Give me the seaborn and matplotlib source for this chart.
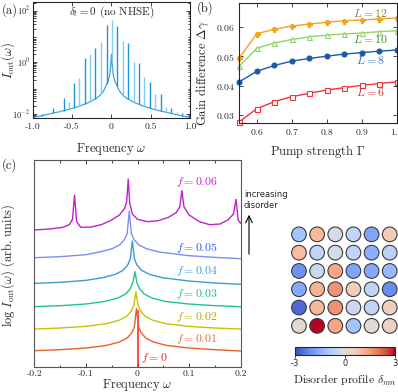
import numpy as np
import matplotlib
matplotlib.use('Agg')
import matplotlib.pyplot as plt
import seaborn as sns
from matplotlib.ticker import LogLocator, NullFormatter, FixedLocator
from matplotlib.colors import Normalize
from matplotlib.cm import ScalarMappable

# %% data -- (a) output spectrum without NHSE (log10 of I_out)
bg_w = [-1.0, -0.9, -0.8, -0.7, -0.6, -0.5, -0.4, -0.3, -0.2, -0.15, -0.1, -0.07, -0.045,
        -0.025, -0.012, 0.0, 0.012, 0.025, 0.045, 0.07, 0.1, 0.15, 0.2, 0.3, 0.4, 0.5,
        0.6, 0.7, 0.8, 0.9, 1.0]
bg_logI = [-2.15, -2.09, -2.02, -1.95, -1.88, -1.8, -1.7, -1.58, -1.42, -1.3, -1.12, -0.92, -0.75,
           -0.55, -0.2, 0.3, -0.2, -0.55, -0.75, -0.92, -1.12, -1.3, -1.42, -1.58, -1.7, -1.8,
           -1.88, -1.95, -2.02, -2.09, -2.15]
peak_w = [-0.88, -0.81, -0.745, -0.675, -0.608, -0.542, -0.475, -0.408, -0.342, -0.272,
          -0.204, -0.136, -0.062, 0.004, 0.072, 0.144, 0.216, 0.284, 0.353, 0.42, 0.488,
          0.557, 0.625, 0.697, 0.764, 0.837, 0.904]
peak_logI = [-2.0, -1.97, -1.8, -1.86, -1.41, -1.55, -0.83, -0.63, 0.14, 0.31,
             0.53, 0.79, 1.44, 1.63, 1.4, 0.83, 0.74, 0.01, -0.05, -0.59, -0.77,
             -1.22, -1.22, -1.76, -1.8, -1.95, -1.99]
a_xticks = [-1.0, -0.5, 0.0, 0.5, 1.0]
a_xticklabels = ['-1.0', '-0.5', '0', '0.5', '1.0']

# %% data -- (b) gain difference vs pump strength
pump = [0.55, 0.6, 0.65, 0.7, 0.75, 0.8, 0.85, 0.9, 0.95, 1.0]
gain_L12 = [0.0495, 0.0578, 0.0593, 0.0604, 0.0611, 0.0617, 0.0622, 0.0625, 0.0628, 0.0632]
gain_L10 = [0.0467, 0.0528, 0.0546, 0.0558, 0.0567, 0.0573, 0.0577, 0.0580, 0.0585, 0.0588]
gain_L8 = [0.0413, 0.0449, 0.0469, 0.0484, 0.0493, 0.0501, 0.0508, 0.0513, 0.0518, 0.0522]
gain_L6 = [0.0276, 0.0321, 0.0345, 0.0362, 0.0374, 0.0385, 0.0393, 0.0401, 0.0407, 0.0413]

# %% data -- (c) offset log spectra for increasing disorder f
w_f01 = [-0.2, -0.15, -0.1, -0.06, -0.035, -0.02, -0.011, -0.006, -0.002, 0.002, 0.007,
         0.016, 0.031, 0.056, 0.1, 0.15, 0.2]
y_f01 = [7.74, 8.23, 9.03, 10.32, 11.94, 13.87, 16.45, 19.35, 28.23, 19.35, 16.45,
         13.87, 11.94, 10.32, 9.03, 8.23, 7.58]
w_f02 = [-0.2, -0.15, -0.1, -0.06, -0.036, -0.021, -0.012, -0.007, -0.003, 0.001, 0.006,
         0.015, 0.03, 0.055, 0.1, 0.15, 0.2]
y_f02 = [18.23, 18.71, 19.52, 20.81, 22.42, 24.35, 26.94, 29.84, 36.29, 29.84, 26.94,
         24.35, 22.42, 20.81, 19.52, 18.71, 18.23]
w_f03 = [-0.2, -0.15, -0.1, -0.063, -0.038, -0.023, -0.014, -0.009, -0.005, -0.001, 0.004,
         0.013, 0.028, 0.053, 0.1, 0.15, 0.2]
y_f03 = [29.03, 29.52, 30.32, 31.61, 33.23, 35.16, 37.74, 40.65, 45.97, 40.65, 37.74,
         35.16, 33.23, 31.61, 30.32, 29.52, 29.03]
w_f04 = [-0.2, -0.15, -0.1, -0.068, -0.043, -0.028, -0.019, -0.014, -0.01, -0.006, -0.001,
         0.008, 0.023, 0.048, 0.1, 0.15, 0.2]
y_f04 = [40.32, 40.81, 41.77, 43.06, 44.68, 46.61, 49.19, 52.10, 60.81, 52.10, 49.19,
         46.61, 44.68, 43.06, 41.45, 40.48, 39.84]
w_f05 = [-0.2, -0.15, -0.1, -0.074, -0.049, -0.034, -0.025, -0.02, -0.016, -0.012, -0.007,
         0.002, 0.017, 0.042, 0.1, 0.15, 0.2]
y_f05 = [52.74, 53.23, 54.19, 55.48, 57.10, 59.03, 61.61, 64.52, 75.32, 64.52, 61.61,
         59.03, 57.10, 55.48, 53.71, 52.90, 52.26]
w_f06 = [-0.2, -0.17, -0.145, -0.132, -0.126, -0.122, -0.118, -0.11, -0.09, -0.07, -0.05,
         -0.035, -0.025, -0.021, -0.018, -0.015, -0.01, 0.0, 0.02, 0.04, 0.06, 0.075, 0.082,
         0.086, 0.09, 0.1, 0.12, 0.14, 0.16, 0.175, 0.186, 0.191, 0.195, 0.2]
y_f06 = [66.13, 66.61, 67.42, 68.71, 71.29, 83.06, 70.16, 67.42, 67.58, 68.71, 70.97,
         73.39, 76.61, 79.84, 90.81, 79.03, 73.87, 71.29, 70.16, 70.65, 72.26, 74.52, 77.42,
         85.16, 77.42, 73.39, 70.16, 68.71, 69.03, 70.97, 73.87, 80.97, 70.97, 69.35]
f0_top = 27.5
f_labels = ['$f = 0.06$', '$f = 0.05$', '$f = 0.04$', '$f = 0.03$', '$f = 0.02$', '$f = 0.01$', '$f = 0$']
f_label_w = [0.115, 0.115, 0.115, 0.115, 0.115, 0.115, 0.032]
f_label_y = [89.5, 57.6, 46.3, 35.0, 24.2, 13.2, 4.0]

# %% data -- disorder profile delta_mn (top row first)
disorder = [[-1.1, 1.0, -0.2, -0.6, -1.7, 0.6],
            [0.9, -0.6, -0.2, -0.6, -1.5, -0.7],
            [-2.0, -0.4, 1.3, -1.7, -1.6, -1.3],
            [-1.6, 1.1, 1.6, 0.5, -0.6, -2.1],
            [-2.6, 1.0, 1.6, -0.4, -0.6, 0.5],
            [0.2, 3.0, 1.3, -1.1, 0.1, 0.4]]

# %% style
sns.set_theme(style='ticks')
plt.rcParams.update({
    'font.family': 'serif',
    'font.serif': ['cmr10'],
    'mathtext.fontset': 'cm',
    'axes.unicode_minus': False,
    'axes.formatter.use_mathtext': True,
    'axes.linewidth': 0.8,
})
W, H = 398, 392
fig = plt.figure(figsize=(W / 100, H / 100), dpi=100)


def box(x0, y0, x1, y1):
    # pixel box (top-left origin) -> figure fraction rect
    return [x0 / W, 1 - y1 / H, (x1 - x0) / W, (y1 - y0) / H]


def inticks(ax):
    ax.tick_params(direction='in', which='both', top=True, right=True,
                   labelsize=7, length=3, width=0.6, pad=3)
    ax.tick_params(which='minor', length=1.8)


# %% (a)
ax_a = fig.add_axes(box(33, 2, 190, 118))
sns.lineplot(x=bg_w, y=10 ** np.array(bg_logI), color='#3aa6dc', lw=0.9,
             sort=False, estimator=None, ax=ax_a)
base = 10 ** np.interp(peak_w, bg_w, bg_logI)
cols_a = ['#7fd0f0' if i % 2 else '#1f97d4' for i in range(len(peak_w))]
ax_a.vlines(peak_w, base, 10 ** np.array(peak_logI), colors=cols_a, lw=1.0)
ax_a.set_yscale('log')
ax_a.set_xlim(-1, 1)
ax_a.set_ylim(10 ** -2.17, 10 ** 2.33)
ax_a.set_xticks(a_xticks)
ax_a.set_xticklabels(a_xticklabels)
ax_a.yaxis.set_major_locator(FixedLocator([1e-2, 1, 1e2]))
ax_a.yaxis.set_minor_locator(LogLocator(base=10, subs=np.arange(2, 10)))
ax_a.yaxis.set_minor_formatter(NullFormatter())
inticks(ax_a)
ax_a.tick_params(axis='y', labelsize=6, pad=2)
ax_a.set_xlabel(r'Frequency $\omega$', fontsize=9)
ax_a.set_ylabel(r'$I_{\rm out}(\omega)$', fontsize=9)
ax_a.xaxis.set_label_coords(0.5, -0.2)
ax_a.yaxis.set_label_coords(-0.105, 0.5)
ax_a.text(0.5, 0.915, r'$\delta_t = 0$ (no NHSE)', transform=ax_a.transAxes,
          ha='center', va='center', fontsize=8)

# %% (b)
ax_b = fig.add_axes(box(239.3, 3, 396.7, 123))
series = [(gain_L12, '#f5a31e', 'P', '#f5a31e', r'$L = 12$', '#a87718', 0.065),
          (gain_L10, '#8fd46c', '^', 'white', r'$L = 10$', '#3c8f2c', 0.0559),
          (gain_L8, '#1c5aa8', 'o', '#1c5aa8', r'$L = 8$', '#2d6fc0', 0.0488),
          (gain_L6, '#f0343c', 's', 'white', r'$L = 6$', '#e02a30', 0.0377)]
for vals, c, m, fc, lab, tc, ty in series:
    sns.lineplot(x=pump, y=vals, color=c, lw=1.0, marker=m, ms=3.6, mfc=fc, mec=c,
                 mew=0.8, sort=False, estimator=None, ax=ax_b, clip_on=False)
    ax_b.text(0.924, ty, lab, color=tc, fontsize=8.5, ha='center', va='center')
ax_b.set_xlim(0.55, 1.0)
ax_b.set_ylim(0.0272, 0.0683)
ax_b.set_xticks([0.6, 0.7, 0.8, 0.9, 1.0])
ax_b.set_yticks([0.03, 0.04, 0.05, 0.06])
inticks(ax_b)
ax_b.set_xlabel(r'Pump strength $\Gamma$', fontsize=9)
ax_b.set_ylabel(r'Gain difference $\Delta\gamma$', fontsize=9)
ax_b.xaxis.set_label_coords(0.5, -0.165)
ax_b.yaxis.set_label_coords(-0.18, 0.42)

# %% (c)
ax_c = fig.add_axes(box(34.3, 160, 240.7, 366.7))
curves = [(w_f06, y_f06, '#c21fd0'), (w_f05, y_f05, '#7e8df4'), (w_f04, y_f04, '#3c9bd0'),
          (w_f03, y_f03, '#1ec48e'), (w_f02, y_f02, '#c8c200'), (w_f01, y_f01, '#e6622c')]
ax_c.vlines([0.0], 0, f0_top, colors='#ff1a1a', lw=1.1, zorder=1)
for w, y, c in curves:
    sns.lineplot(x=w, y=y, color=c, lw=1.0, sort=False, estimator=None, ax=ax_c, zorder=2)
label_cols = ['#c21fd0', '#3d55e6', '#3a9bd0', '#1eb88c', '#b0aa00', '#e8682e', '#ff1a1a']
for lab, lw_, ly, lc in zip(f_labels, f_label_w, f_label_y, label_cols):
    ax_c.text(lw_, ly, lab, color=lc, fontsize=8.5, ha='center', va='center')
ax_c.set_xlim(-0.2, 0.2)
ax_c.set_ylim(0, 100)
ax_c.set_xticks([-0.2, -0.1, 0.0, 0.1, 0.2])
ax_c.set_xticklabels(['-0.2', '-0.1', '0', '0.1', '0.2'])
ax_c.set_xticks([-0.15, -0.05, 0.05, 0.15], minor=True)
ax_c.set_yticks([])
inticks(ax_c)
ax_c.tick_params(left=False, right=False, pad=2)
for s in ax_c.spines.values():
    s.set_color('#555555')
ax_c.set_xlabel(r'Frequency $\omega$', fontsize=9)
ax_c.set_ylabel(r'$\log\, I_{\rm out}(\omega)$ (arb. units)', fontsize=9)
ax_c.xaxis.set_label_coords(0.5, -0.048)
ax_c.yaxis.set_label_coords(-0.083, 0.49)

fig.text(244 / W, 1 - 190 / H, 'increasing\ndisorder', fontfamily='DejaVu Sans',
         fontsize=6, va='top', ha='left', linespacing=1.35)
ax_c.annotate('', xy=(249 / W, 1 - 212 / H), xytext=(249 / W, 1 - 257 / H),
              xycoords='figure fraction', textcoords='figure fraction',
              arrowprops=dict(arrowstyle='->', color='black', lw=0.8))

# %% disorder profile
ax_d = fig.add_axes(box(289.9, 225.2, 398.8, 335))
dis = np.array(disorder)
rr, cc = np.meshgrid(np.arange(dis.shape[0]), np.arange(dis.shape[1]), indexing='ij')
sns.scatterplot(x=cc.ravel(), y=rr.ravel(), hue=dis.ravel(), palette='coolwarm',
                hue_norm=(-3, 3), s=112, edgecolor='#3a3a3a', linewidth=0.8,
                legend=False, ax=ax_d, clip_on=False)
ax_d.set_xlim(-0.5, 5.5)
ax_d.set_ylim(5.5, -0.5)
ax_d.axis('off')

cax = fig.add_axes(box(295, 347.3, 395, 355.3))
cb = fig.colorbar(ScalarMappable(norm=Normalize(-3, 3), cmap='coolwarm'), cax=cax,
                  orientation='horizontal', ticks=[-3, 0, 3])
cb.outline.set_linewidth(0.8)
cb.ax.tick_params(labelsize=6, length=2, width=0.6, pad=1)
cb.ax.set_xticklabels(['-3', '0', '3'], fontfamily='DejaVu Sans')
cb.set_label(r'Disorder profile $\delta_{mn}$', fontsize=8.5, labelpad=3)

# %% panel letters
fig.text(2 / W, 1 - 10 / H, '(a)', fontsize=9, va='center')
fig.text(197 / W, 1 - 8 / H, '(b)', fontsize=9, va='center')
fig.text(2 / W, 1 - 165 / H, '(c)', fontsize=9, va='center')

fig.savefig('out.png', dpi=100)
